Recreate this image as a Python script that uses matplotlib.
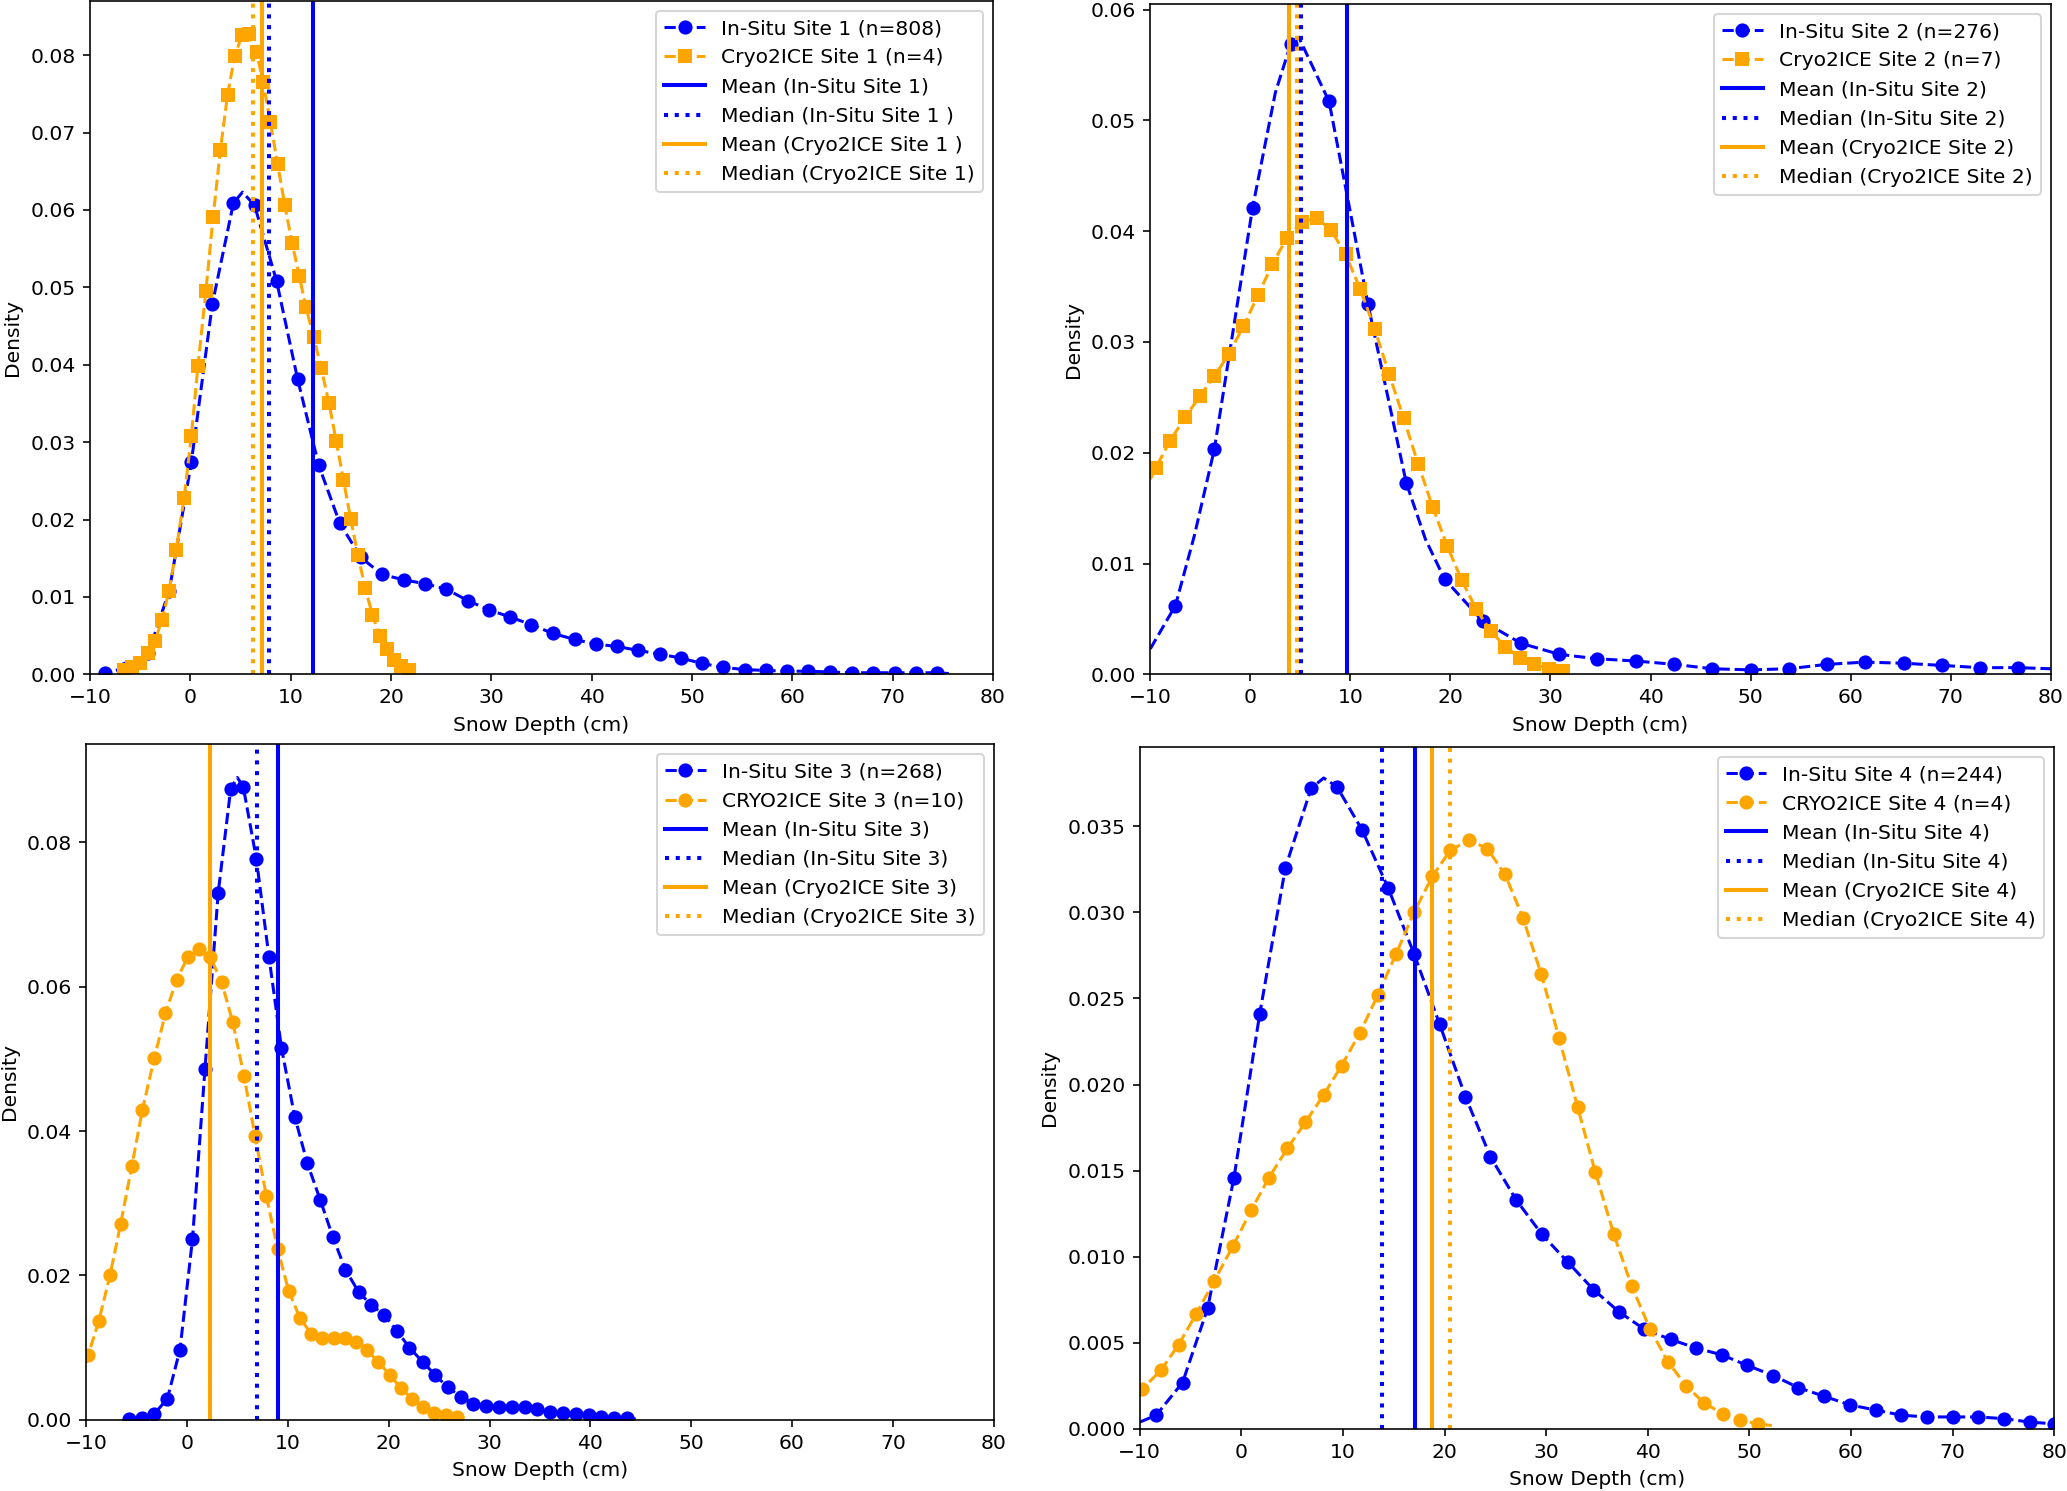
from __future__ import annotations

import matplotlib as mpl
mpl.use("Agg")
import matplotlib.pyplot as plt
import numpy as np

# ---------------------------------------------------------------------------
# Valores (densidad KDE de espesor de nieve, cm)
# *_x / *_y  -> puntos con marcador
# *_lx / *_ly -> vértices extra de la curva (sin marcador)
# ---------------------------------------------------------------------------

# Site 1
s1_insitu_x = [-8.5, -6.4, -4.2, -2.1, 0.1, 2.2, 4.3, 6.4, 8.6, 10.7, 12.8, 14.9, 17.0, 19.1,
               21.3, 23.4, 25.5, 27.7, 29.8, 31.9, 34.0, 36.1, 38.3, 40.4, 42.5, 44.6, 46.8,
               48.9, 51.0, 53.1, 55.3, 57.4, 59.5, 61.6, 63.8, 65.9, 68.0, 70.2, 72.3, 74.4]
s1_insitu_y = [0.0002, 0.0008, 0.0027, 0.0108, 0.0274, 0.0479, 0.0609, 0.0606, 0.0508, 0.0381,
               0.0270, 0.0195, 0.0151, 0.0129, 0.0122, 0.0117, 0.0110, 0.0095, 0.0083, 0.0074,
               0.0064, 0.0053, 0.0045, 0.0039, 0.0036, 0.0031, 0.0026, 0.0021, 0.0014, 0.0009,
               0.0006, 0.0005, 0.0004, 0.0004, 0.0003, 0.0002, 0.0002, 0.0002, 0.0002, 0.0002]
s1_insitu_lx = [-9.0, 5.2, 75.6]
s1_insitu_ly = [0.0001, 0.0623, 0.0001]
s1_cryo_x = [-6.65, -5.80, -5.01, -4.23, -3.51, -2.85, -2.13, -1.41, -0.62, 0.10, 0.76, 1.55,
             2.27, 2.99, 3.71, 4.43, 5.15, 5.81, 6.60, 7.25, 7.97, 8.70, 9.42, 10.14, 10.86,
             11.52, 12.30, 13.03, 13.81, 14.53, 15.26, 15.98, 16.70, 17.42, 18.14, 18.86,
             19.59, 20.31, 21.03, 21.75]
s1_cryo_y = [0.0005, 0.0009, 0.0015, 0.0027, 0.0043, 0.0070, 0.0107, 0.0161, 0.0228, 0.0308,
             0.0399, 0.0495, 0.0591, 0.0677, 0.0749, 0.0799, 0.0826, 0.0827, 0.0804, 0.0765,
             0.0714, 0.0659, 0.0606, 0.0557, 0.0515, 0.0474, 0.0436, 0.0396, 0.0351, 0.0302,
             0.0251, 0.0201, 0.0154, 0.0112, 0.0077, 0.0050, 0.0033, 0.0019, 0.0011, 0.0005]
s1_cryo_lx = []
s1_cryo_ly = []
s1_stats = {"insitu_mean": 12.24, "insitu_median": 7.84, "cryo_mean": 7.19, "cryo_median": 6.27}

# Site 2
s2_insitu_x = [-7.49, -3.60, 0.22, 4.04, 7.87, 11.76, 15.58, 19.41, 23.23, 27.05, 30.88, 34.70,
               38.53, 42.35, 46.18, 50.00, 53.82, 57.65, 61.47, 65.30, 69.12, 72.94, 76.77]
s2_insitu_y = [0.0062, 0.0203, 0.0421, 0.0569, 0.0517, 0.0334, 0.0173, 0.0086, 0.0048, 0.0028,
               0.0018, 0.0014, 0.0012, 0.0009, 0.0005, 0.0004, 0.0005, 0.0009, 0.0011, 0.0010,
               0.0008, 0.0006, 0.0006]
s2_insitu_lx = [-10.0, -5.6, 2.5, 4.84, 17.5, 80.0]
s2_insitu_ly = [0.0023, 0.0125, 0.0525, 0.0575, 0.0122, 0.0005]
s2_cryo_x = [-9.47, -8.02, -6.51, -5.06, -3.60, -2.15, -0.70, 0.75, 2.20, 3.65, 5.16, 6.62,
             8.07, 9.52, 10.97, 12.42, 13.87, 15.32, 16.77, 18.22, 19.67, 21.12, 22.57, 24.02,
             25.47, 26.92, 28.37, 29.82, 31.27]
s2_cryo_y = [0.0186, 0.0211, 0.0232, 0.0251, 0.0269, 0.0289, 0.0314, 0.0342, 0.0370, 0.0394,
             0.0408, 0.0412, 0.0401, 0.0379, 0.0348, 0.0312, 0.0271, 0.0231, 0.0190, 0.0151,
             0.0116, 0.0085, 0.0059, 0.0039, 0.0025, 0.0015, 0.0009, 0.0005, 0.0003]
s2_cryo_lx = [-10.0]
s2_cryo_ly = [0.0176]
s2_stats = {"insitu_mean": 9.65, "insitu_median": 5.03, "cryo_mean": 3.91, "cryo_median": 4.64}

# Site 3
s3_insitu_x = [-5.75, -4.51, -3.26, -1.96, -0.71, 0.53, 1.77, 3.08, 4.32, 5.57, 6.87, 8.12,
               9.36, 10.67, 11.91, 13.22, 14.46, 15.70, 17.01, 18.26, 19.56, 20.81, 22.05,
               23.36, 24.60, 25.84, 27.15, 28.39, 29.64, 30.94, 32.19, 33.49, 34.74, 35.98,
               37.29, 38.53, 39.84, 41.08, 42.33, 43.63]
s3_insitu_y = [0.0001, 0.0003, 0.0008, 0.0029, 0.0097, 0.0250, 0.0486, 0.0730, 0.0874, 0.0877,
               0.0777, 0.0641, 0.0515, 0.0420, 0.0356, 0.0304, 0.0253, 0.0208, 0.0177, 0.0159,
               0.0145, 0.0123, 0.0100, 0.0080, 0.0062, 0.0045, 0.0032, 0.0022, 0.0019, 0.0018,
               0.0018, 0.0018, 0.0015, 0.0011, 0.0009, 0.0008, 0.0006, 0.0004, 0.0003, 0.0002]
s3_insitu_lx = [-6.2, 4.98, 44.5]
s3_insitu_ly = [0.0001, 0.0890, 0.0001]
s3_cryo_x = [-9.80, -8.76, -7.65, -6.60, -5.49, -4.44, -3.26, -2.15, -1.04, 0.07, 1.18, 2.30,
             3.41, 4.52, 5.63, 6.74, 7.86, 8.97, 10.08, 11.19, 12.30, 13.42, 14.53, 15.64,
             16.75, 17.86, 18.98, 20.09, 21.20, 22.31, 23.42, 24.53, 25.65, 26.76]
s3_cryo_y = [0.0090, 0.0137, 0.0200, 0.0271, 0.0351, 0.0429, 0.0501, 0.0563, 0.0610, 0.0641,
             0.0652, 0.0641, 0.0607, 0.0551, 0.0477, 0.0393, 0.0310, 0.0237, 0.0178, 0.0141,
             0.0119, 0.0113, 0.0113, 0.0113, 0.0108, 0.0096, 0.0080, 0.0062, 0.0044, 0.0029,
             0.0018, 0.0009, 0.0006, 0.0004]
s3_cryo_lx = [-10.0, 27.5]
s3_cryo_ly = [0.0079, 0.0002]
s3_stats = {"insitu_mean": 8.97, "insitu_median": 6.94, "cryo_mean": 2.30, "cryo_median": 2.30}

# Site 4
s4_insitu_x = [-8.38, -5.78, -3.32, -0.72, 1.81, 4.34, 6.87, 9.40, 11.87, 14.46, 16.99, 19.52,
               22.05, 24.52, 27.05, 29.58, 32.11, 34.64, 37.17, 39.64, 42.24, 44.77, 47.30,
               49.76, 52.36, 54.82, 57.35, 59.88, 62.42, 64.95, 67.48, 70.01, 72.54, 75.07,
               77.60, 80.0]
s4_insitu_y = [0.0008, 0.0027, 0.0070, 0.0146, 0.0241, 0.0326, 0.0372, 0.0373, 0.0348, 0.0314,
               0.0276, 0.0235, 0.0193, 0.0158, 0.0133, 0.0113, 0.0097, 0.0081, 0.0068, 0.0058,
               0.0052, 0.0047, 0.0043, 0.0037, 0.0031, 0.0024, 0.0019, 0.0014, 0.0011, 0.0008,
               0.0007, 0.0007, 0.0007, 0.0006, 0.0004, 0.0003]
s4_insitu_lx = [-10.0, 8.1]
s4_insitu_ly = [0.0004, 0.0378]
s4_cryo_x = [-9.81, -7.92, -6.17, -4.42, -2.67, -0.85, 0.97, 2.72, 4.54, 6.29, 8.10, 9.86,
             11.67, 13.43, 15.24, 16.99, 18.81, 20.56, 22.38, 24.20, 25.95, 27.70, 29.52,
             31.27, 33.09, 34.84, 36.66, 38.41, 40.22, 41.98, 43.79, 45.55, 47.36, 49.11, 50.87]
s4_cryo_y = [0.0023, 0.0034, 0.0049, 0.0067, 0.0086, 0.0106, 0.0127, 0.0146, 0.0163, 0.0178,
             0.0194, 0.0211, 0.0230, 0.0252, 0.0276, 0.0300, 0.0321, 0.0336, 0.0342, 0.0337,
             0.0322, 0.0297, 0.0264, 0.0227, 0.0187, 0.0149, 0.0113, 0.0083, 0.0058, 0.0039,
             0.0025, 0.0015, 0.0009, 0.0005, 0.0003]
s4_cryo_lx = [-10.0, 52.2]
s4_cryo_ly = [0.0020, 0.0002]
s4_stats = {"insitu_mean": 17.06, "insitu_median": 13.81, "cryo_mean": 18.75, "cryo_median": 20.56}

# Etiquetas de leyenda (tal cual en la figura original)
s1_labels = ["In-Situ Site 1 (n=808)", "Cryo2ICE Site 1 (n=4)", "Mean (In-Situ Site 1)",
             "Median (In-Situ Site 1 )", "Mean (Cryo2ICE Site 1 )", "Median (Cryo2ICE Site 1)"]
s2_labels = ["In-Situ Site 2 (n=276)", "Cryo2ICE Site 2 (n=7)", "Mean (In-Situ Site 2)",
             "Median (In-Situ Site 2)", "Mean (Cryo2ICE Site 2)", "Median (Cryo2ICE Site 2)"]
s3_labels = ["In-Situ Site 3 (n=268)", "CRYO2ICE Site 3 (n=10)", "Mean (In-Situ Site 3)",
             "Median (In-Situ Site 3)", "Mean (Cryo2ICE Site 3)", "Median (Cryo2ICE Site 3)"]
s4_labels = ["In-Situ Site 4 (n=244)", "CRYO2ICE Site 4 (n=4)", "Mean (In-Situ Site 4)",
             "Median (In-Situ Site 4)", "Mean (Cryo2ICE Site 4)", "Median (Cryo2ICE Site 4)"]

s1_ylim = 0.087
s2_ylim = 0.0605
s3_ylim = 0.0936
s4_ylim = 0.0396


def merge_curve(x, y, lx, ly):
    """Une puntos con marcador y vértices extra; devuelve x, y y los índices marcados."""
    xs = np.concatenate([np.asarray(x, float), np.asarray(lx, float)])
    ys = np.concatenate([np.asarray(y, float), np.asarray(ly, float)])
    is_mark = np.concatenate([np.ones(len(x), bool), np.zeros(len(lx), bool)])
    order = np.argsort(xs, kind="stable")
    xs, ys, is_mark = xs[order], ys[order], is_mark[order]
    return xs, ys, list(np.flatnonzero(is_mark))


def plot_site(ax, insitu, cryo, stats, labels, cryo_marker, ytop):
    xi, yi, mi = merge_curve(*insitu)
    xc, yc, mc = merge_curve(*cryo)

    ax.plot(xi, yi, "--", color="blue", marker="o", markevery=mi, label=labels[0])
    ax.plot(xc, yc, "--", color="orange", marker=cryo_marker, markevery=mc, label=labels[1])

    ax.axvline(stats["insitu_mean"], color="blue", linestyle="-", linewidth=2, label=labels[2])
    ax.axvline(stats["insitu_median"], color="blue", linestyle=":", linewidth=2, label=labels[3])
    ax.axvline(stats["cryo_mean"], color="orange", linestyle="-", linewidth=2, label=labels[4])
    ax.axvline(stats["cryo_median"], color="orange", linestyle=":", linewidth=2, label=labels[5])

    ax.set_xlim(-10, 80)
    ax.set_ylim(0, ytop)
    ax.set_xlabel("Snow Depth (cm)")
    ax.set_ylabel("Density")
    ax.legend(loc="upper right")


W, H, DPI = 2067, 1491, 146
fig = plt.figure(figsize=(W / DPI, H / DPI), dpi=DPI)

# posiciones de ejes (px de la figura original): izquierda, arriba, derecha, abajo
boxes = [
    (90.0, 1.0, 993.0, 674.3),
    (1150.3, 4.0, 2050.7, 674.3),
    (86.3, 744.3, 993.7, 1419.7),
    (1139.7, 747.0, 2054.3, 1429.0),
]
axes = []
for l, t, r, b in boxes:
    axes.append(fig.add_axes([l / W, 1 - b / H, (r - l) / W, (b - t) / H]))

plot_site(axes[0], (s1_insitu_x, s1_insitu_y, s1_insitu_lx, s1_insitu_ly),
          (s1_cryo_x, s1_cryo_y, s1_cryo_lx, s1_cryo_ly), s1_stats, s1_labels, "s", s1_ylim)
plot_site(axes[1], (s2_insitu_x, s2_insitu_y, s2_insitu_lx, s2_insitu_ly),
          (s2_cryo_x, s2_cryo_y, s2_cryo_lx, s2_cryo_ly), s2_stats, s2_labels, "s", s2_ylim)
plot_site(axes[2], (s3_insitu_x, s3_insitu_y, s3_insitu_lx, s3_insitu_ly),
          (s3_cryo_x, s3_cryo_y, s3_cryo_lx, s3_cryo_ly), s3_stats, s3_labels, "o", s3_ylim)
plot_site(axes[3], (s4_insitu_x, s4_insitu_y, s4_insitu_lx, s4_insitu_ly),
          (s4_cryo_x, s4_cryo_y, s4_cryo_lx, s4_cryo_ly), s4_stats, s4_labels, "o", s4_ylim)

fig.savefig("out.png", dpi=DPI)
plt.close(fig)
